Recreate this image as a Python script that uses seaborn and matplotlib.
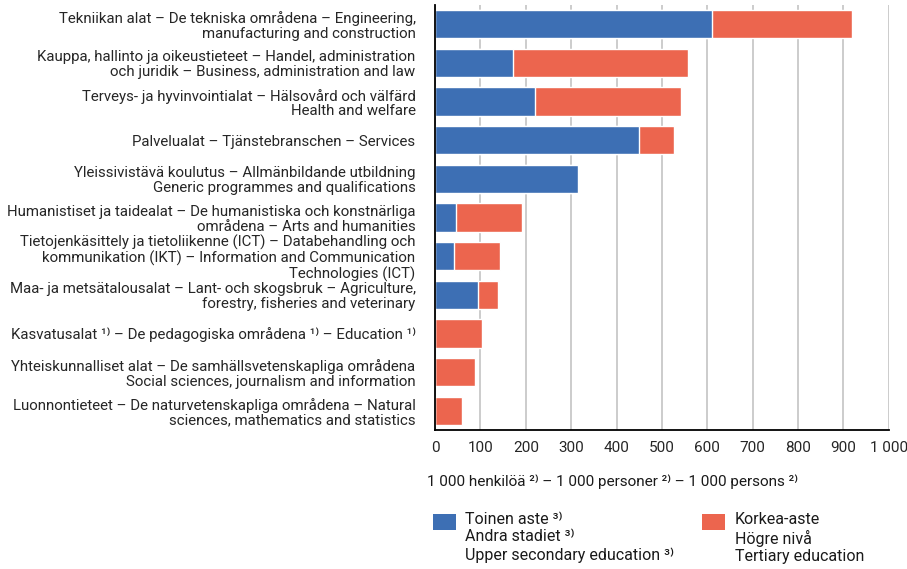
import seaborn as sns
import pandas as pd
import matplotlib.pyplot as plt
from matplotlib.patches import Rectangle

categories = [
    "Tekniikan alat – De tekniska områdena – Engineering,\nmanufacturing and construction",
    "Kauppa, hallinto ja oikeustieteet – Handel, administration\noch juridik – Business, administration and law",
    "Terveys- ja hyvinvointialat – Hälsovård och välfärd\nHealth and welfare",
    "Palvelualat – Tjänstebranschen – Services",
    "Yleissivistävä koulutus – Allmänbildande utbildning\nGeneric programmes and qualifications",
    "Humanistiset ja taidealat – De humanistiska och konstnärliga\nområdena – Arts and humanities",
    "Tietojenkäsittely ja tietoliikenne (ICT) – Databehandling och\nkommunikation (IKT) – Information and Communication\nTechnologies (ICT)",
    "Maa- ja metsätalousalat – Lant- och skogsbruk – Agriculture,\nforestry, fisheries and veterinary",
    "Kasvatusalat ¹⁾ – De pedagogiska områdena ¹⁾ – Education ¹⁾",
    "Yhteiskunnalliset alat – De samhällsvetenskapliga områdena\nSocial sciences, journalism and information",
    "Luonnontieteet – De naturvetenskapliga områdena – Natural\nsciences, mathematics and statistics",
]
upper_secondary = [610, 172, 220, 450, 316, 47, 42, 94, 0, 0, 0]
tertiary = [309, 386, 322, 77, 0, 144, 101, 44, 104, 88, 60]
xticks = [0, 100, 200, 300, 400, 500, 600, 700, 800, 900, 1000]
xticklabels = ["0", "100", "200", "300", "400", "500", "600", "700", "800", "900", "1 000"]
legend_labels = ["Toinen aste ³⁾\nAndra stadiet ³⁾\nUpper secondary education ³⁾",
                 "Korkea-aste\nHögre nivå\nTertiary education"]

blue = "#3D6FB4"
red = "#EC654E"

df = pd.DataFrame({"category": categories,
                   "upper": upper_secondary,
                   "tertiary": tertiary})
df["total"] = df["upper"] + df["tertiary"]

sns.set_style("white")
plt.rcParams['font.family'] = ['Roboto', 'DejaVu Sans']
plt.rcParams['text.color'] = '#1a1a1a'

fig = plt.figure(figsize=(9.07, 5.69), dpi=100)
ax = fig.add_axes([0.4796, 0.2443, 0.5004, 0.7469])

# stacked: total in red underneath, upper secondary in blue on top
sns.barplot(data=df, y="category", x="total", color=red, orient="h",
            width=0.73, edgecolor="white", linewidth=1, saturation=1, ax=ax)
sns.barplot(data=df, y="category", x="upper", color=blue, orient="h",
            width=0.73, edgecolor="white", linewidth=1, saturation=1, ax=ax)

ax.set_xlim(0, 1000)
ax.set_ylim(10.5, -0.5)
ax.set_xticks(xticks)
ax.set_xticklabels(xticklabels, fontsize=11)
ax.tick_params(axis='y', labelsize=10.8, length=0, pad=14)
ax.tick_params(axis='x', length=0, pad=8)
for lbl in ax.get_yticklabels():
    lbl.set_multialignment('right')
    lbl.set_linespacing(1.05)
ax.set_xlabel("")
ax.set_ylabel("")
ax.grid(axis='x', color='#c8c8c8', lw=1.3)
ax.set_axisbelow(True)
ax.spines['top'].set_visible(False)
ax.spines['right'].set_visible(False)
ax.spines['left'].set_color('black')
ax.spines['bottom'].set_color('black')
ax.spines['left'].set_linewidth(1.3)
ax.spines['bottom'].set_linewidth(1.3)

fig.text(0.471, 0.154, "1 000 henkilöä ²⁾ – 1 000 personer ²⁾ – 1 000 persons ²⁾",
         fontsize=11, va='center', ha='left')

# legend drawn by hand so the swatch sits at the first text line
for (sx, tx), col, lab in zip([(0.4774, 0.5127), (0.7740, 0.8100)],
                              [blue, red], legend_labels):
    fig.add_artist(Rectangle((sx, 0.0685), 0.0254, 0.0282, facecolor=col,
                             edgecolor='none', transform=fig.transFigure))
    fig.text(tx, 0.101, lab, fontsize=11.5, va='top', ha='left', linespacing=1.22)

fig.savefig("out.png", dpi=100)
